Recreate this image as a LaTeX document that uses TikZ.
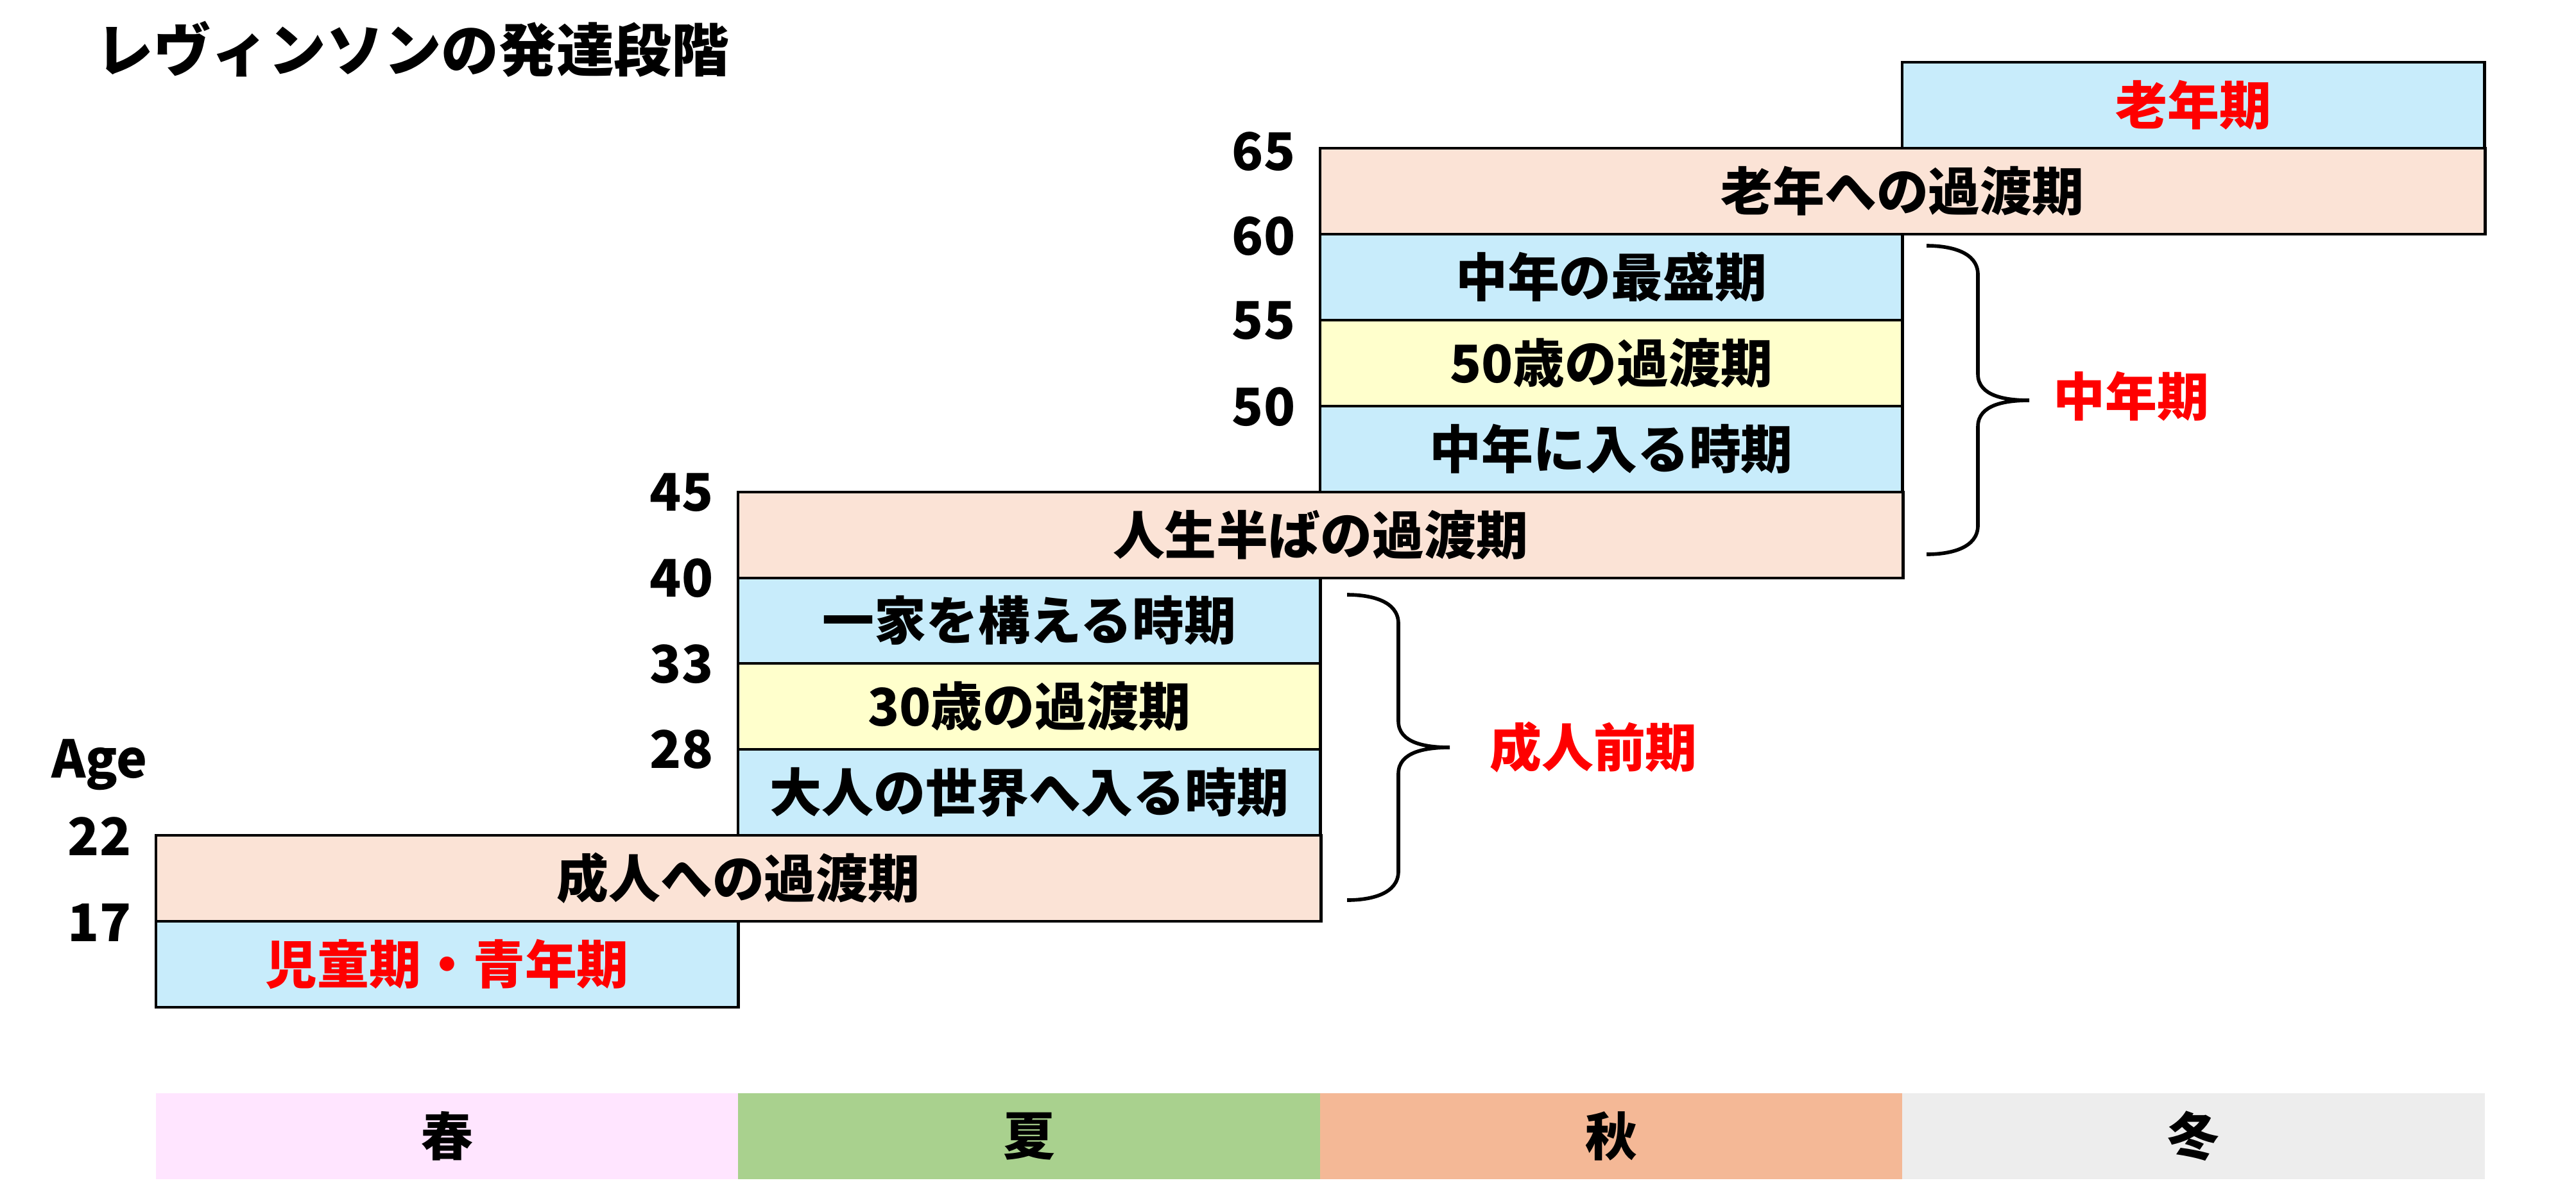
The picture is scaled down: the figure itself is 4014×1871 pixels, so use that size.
\documentclass[tikz,border=0pt]{standalone}
\usepackage{fontspec}
\setmainfont{Noto Sans CJK JP}
\usepackage{tikz}
\usetikzlibrary{positioning}

\definecolor{stageblue}{HTML}{C8ECFB}
\definecolor{transpeach}{HTML}{FBE3D6}
\definecolor{transyellow}{HTML}{FFFFCC}
\definecolor{springpink}{HTML}{FFE5FF}
\definecolor{summergreen}{HTML}{A9D18E}
\definecolor{autumnorange}{HTML}{F4B896}
\definecolor{wintergrey}{HTML}{EDEDED}

\begin{document}
\begin{tikzpicture}[
    x=0.01cm, y=-0.01cm,
    jp/.style={font=\bfseries\fontsize{23}{23}\selectfont},
    box/.style={jp, draw=black, line width=1.4pt, minimum height=1.339cm,
                inner sep=0pt, outer sep=0pt, anchor=north west},
    one/.style={box, minimum width=9.07cm},
    two/.style={box, minimum width=18.14cm},
    season/.style={jp, minimum width=9.07cm, minimum height=1.34cm,
                   inner sep=0pt, outer sep=0pt, anchor=north west},
    age/.style={jp, inner sep=0pt},
    era/.style={jp, text=red, inner sep=0pt},
    brace/.style={line width=1.6pt, black}
]
\useasboundingbox (0,0) rectangle (4014,1871);

\node[jp, font=\bfseries\fontsize{25.5}{25.5}\selectfont, anchor=west, inner sep=0pt] (title) at (149,77) {レヴィンソンの発達段階};

% stages
\node[one, fill=stageblue, text=red] (child)   at (243,1436)  {児童期・青年期};
\node[two, fill=transpeach]          (adult)   at (243,1302)  {成人への過渡期};
\node[one, fill=stageblue]           (world)   at (1150,1168) {大人の世界へ入る時期};
\node[one, fill=transyellow]         (thirty)  at (1150,1034) {30歳の過渡期};
\node[one, fill=stageblue]           (family)  at (1150,900)  {一家を構える時期};
\node[two, fill=transpeach]          (midlife) at (1150,767)  {人生半ばの過渡期};
\node[one, fill=stageblue]           (entry)   at (2057,633)  {中年に入る時期};
\node[one, fill=transyellow]         (fifty)   at (2057,499)  {50歳の過渡期};
\node[one, fill=stageblue]           (prime)   at (2057,365)  {中年の最盛期};
\node[two, fill=transpeach]          (late)    at (2057,231)  {老年への過渡期};
\node[one, fill=stageblue, text=red] (old)     at (2964,97)   {老年期};

% ages
\node[age] (a65) at (1969,236)  {65};
\node[age] (a60) at (1969,368)  {60};
\node[age] (a55) at (1969,500)  {55};
\node[age] (a50) at (1969,634)  {50};
\node[age] (a45) at (1062,768)  {45};
\node[age] (a40) at (1062,901)  {40};
\node[age] (a33) at (1062,1035) {33};
\node[age] (a28) at (1062,1168) {28};
\node[age] (a22) at (155,1304)  {22};
\node[age] (a17) at (155,1438)  {17};
\node[age] (agehd) at (155,1192) {Age};

% braces
\draw[brace] (3002,383) to[out=0,in=90] (3082,428) -- (3082,583)
    to[out=-90,in=180] (3162,624) to[out=180,in=90] (3082,665)
    -- (3082,819) to[out=-90,in=0] (3002,864);
\node[era] (middle) at (3321,618) {中年期};
\draw[brace] (2099,927) to[out=0,in=90] (2179,972) -- (2179,1124)
    to[out=-90,in=180] (2259,1165) to[out=180,in=90] (2179,1206)
    -- (2179,1358) to[out=-90,in=0] (2099,1403);
\node[era] (early) at (2483,1165) {成人前期};

% seasons
\node[season, fill=springpink]   (spring) at (243,1704)  {春};
\node[season, fill=summergreen]  (summer) at (1150,1704) {夏};
\node[season, fill=autumnorange] (autumn) at (2057,1704) {秋};
\node[season, fill=wintergrey]   (winter) at (2964,1704) {冬};
\end{tikzpicture}
\end{document}
